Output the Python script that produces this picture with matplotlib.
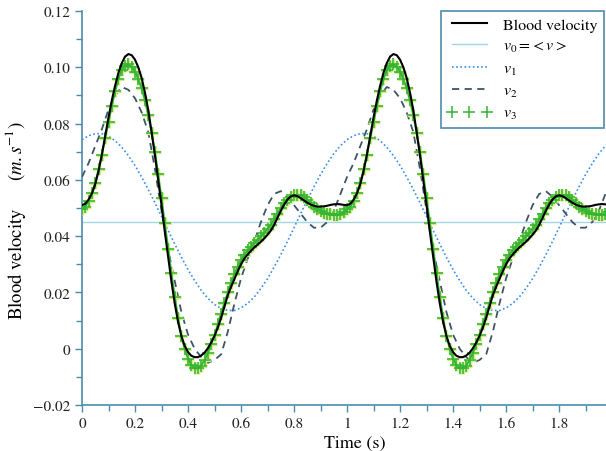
import numpy as np
import matplotlib.pyplot as plt
from matplotlib.ticker import MultipleLocator, FuncFormatter

plt.rcParams['font.family'] = ['STIXGeneral', 'DejaVu Serif']
plt.rcParams['mathtext.fontset'] = 'stix'

# one period (1 s) of each curve
t_fine = np.arange(0, 1, 0.0125)     # blood velocity and v3
t_coarse = np.arange(0, 1, 0.025)    # v1 and v2

blood = [0.0510, 0.0515, 0.0530, 0.0552, 0.0585, 0.0632, 0.0690, 0.0755,
         0.0822, 0.0882, 0.0935, 0.0980, 0.1015, 0.1038, 0.1047, 0.1043,
         0.1027, 0.1000, 0.0962, 0.0910, 0.0848, 0.0770, 0.0688, 0.0600,
         0.0510, 0.0415, 0.0325, 0.0238, 0.0160, 0.0095, 0.0045, 0.0010,
         -0.0012, -0.0025, -0.0030, -0.0030, -0.0024, -0.0014, 0.0002, 0.0022,
         0.0046, 0.0075, 0.0110, 0.0150, 0.0190, 0.0220, 0.0248, 0.0275,
         0.0300, 0.0320, 0.0335, 0.0348, 0.0360, 0.0370, 0.0380, 0.0392,
         0.0405, 0.0420, 0.0440, 0.0465, 0.0490, 0.0512, 0.0530, 0.0541,
         0.0545, 0.0542, 0.0535, 0.0527, 0.0519, 0.0512, 0.0508, 0.0505,
         0.0505, 0.0506, 0.0508, 0.0511, 0.0513, 0.0514, 0.0513, 0.0511]

v0_mean = 0.045

v1 = [0.0743, 0.0757, 0.0764, 0.0764, 0.0755, 0.0739, 0.0716, 0.0686,
      0.0651, 0.0610, 0.0566, 0.0519, 0.0470, 0.0420, 0.0372, 0.0325,
      0.0281, 0.0242, 0.0207, 0.0179, 0.0157, 0.0143, 0.0136, 0.0136,
      0.0145, 0.0161, 0.0184, 0.0214, 0.0249, 0.0290, 0.0334, 0.0381,
      0.0430, 0.0480, 0.0528, 0.0575, 0.0619, 0.0658, 0.0693, 0.0721]

v2 = [0.061, 0.066, 0.072, 0.078, 0.085, 0.090, 0.093, 0.092,
      0.089, 0.084, 0.077, 0.064, 0.049, 0.035, 0.024, 0.013,
      0.005, 0.000, -0.003, -0.005, -0.004, -0.002, 0.006, 0.016,
      0.025, 0.032, 0.038, 0.045, 0.051, 0.055, 0.056, 0.054,
      0.051, 0.048, 0.045, 0.043, 0.043, 0.045, 0.049, 0.055]

v3 = [0.0495, 0.0503, 0.0525, 0.0553, 0.0590, 0.0637, 0.0690, 0.0748,
      0.0805, 0.0862, 0.0915, 0.0958, 0.0990, 0.1006, 0.1010, 0.1002,
      0.0985, 0.0958, 0.0925, 0.0882, 0.0830, 0.0768, 0.0700, 0.0620,
      0.0535, 0.0445, 0.0355, 0.0268, 0.0185, 0.0110, 0.0045, -0.0001,
      -0.0035, -0.0058, -0.0070, -0.0070, -0.0060, -0.0040, -0.0015, 0.0015,
      0.0050, 0.0088, 0.0125, 0.0163, 0.0200, 0.0235, 0.0265, 0.0292,
      0.0315, 0.0334, 0.0350, 0.0363, 0.0375, 0.0387, 0.0400, 0.0412,
      0.0425, 0.0441, 0.0460, 0.0480, 0.0500, 0.0517, 0.0530, 0.0540,
      0.0545, 0.0547, 0.0545, 0.0539, 0.0530, 0.0518, 0.0505, 0.0497,
      0.0490, 0.0484, 0.0480, 0.0477, 0.0475, 0.0475, 0.0478, 0.0485]


def two_periods(tp, vals):
    vals = np.asarray(vals)
    return (np.concatenate([tp, tp + 1, [2.0]]),
            np.concatenate([vals, vals, vals[:1]]))


fig = plt.figure(figsize=(6.06, 4.52), dpi=100)
ax = fig.add_axes([82 / 606, 46 / 452, 524 / 606, 394 / 452])

axis_col = '#4b8cab'
green = '#33b533'

tb, yb = two_periods(t_fine, blood)
t1, y1 = two_periods(t_coarse, v1)
t2, y2 = two_periods(t_coarse, v2)
t3, y3 = two_periods(t_fine, v3)

ax.plot(tb, yb, color='black', lw=1.5, label='Blood velocity', zorder=6)
ax.axhline(v0_mean, color='#a6d4e8', lw=1.0, label=r'$v_0 =\!< v >$', zorder=2)
ax.plot(t1, y1, color='#3a8fe6', lw=1.2, ls=(0, (1, 1.5)), label=r'$v_1$', zorder=3)
ax.plot(t2, y2, color='#3d5566', lw=1.3, ls=(0, (4, 3)), label=r'$v_2$', zorder=3)
# v3: dense "+" markers, with a light yellow halo like the original rendering
ax.plot(t3, y3, ls='none', marker='+', ms=8, mew=2.4, color='#d6ea86', zorder=4)
ax.plot(t3, y3, color=green, lw=1.4, zorder=4)
ax.plot(t3, y3, ls='none', marker='+', ms=8, mew=1.1,
        color=green, label=r'$v_3$', zorder=5)

ax.set_xlim(0, 1.977)
ax.set_ylim(-0.02, 0.12)

for side in ['top', 'right']:
    ax.spines[side].set_visible(False)
for side in ['left', 'bottom']:
    ax.spines[side].set_color(axis_col)
    ax.spines[side].set_linewidth(1.2)

ax.xaxis.set_major_locator(MultipleLocator(0.2))
ax.xaxis.set_minor_locator(MultipleLocator(0.1))
ax.yaxis.set_major_locator(MultipleLocator(0.02))
ax.yaxis.set_minor_locator(MultipleLocator(0.01))
ax.xaxis.set_major_formatter(FuncFormatter(lambda v, p: '%g' % round(v, 2)))


def yfmt(v, p):
    if abs(v) < 1e-9:
        return '0'
    return ('%.2f' % v).replace('-', '\u2212')


ax.yaxis.set_major_formatter(FuncFormatter(yfmt))
ax.tick_params(which='both', direction='out', color=axis_col, width=1.0,
               labelsize=11, labelcolor='#222222')
ax.tick_params(which='major', length=5)
ax.tick_params(which='minor', length=4)

ax.set_xlabel('Time (s)', fontsize=13)
ax.xaxis.set_label_coords(0.52, -0.075)
ax.set_ylabel(r'Blood velocity      $(m.s^{-1})$', fontsize=13.5)
ax.yaxis.set_label_coords(-0.103, 0.47)

leg = ax.legend(loc='upper right', bbox_to_anchor=(0.996, 1.0), borderaxespad=0,
                fontsize=11.5, handlelength=2.8, handletextpad=0.7, numpoints=3,
                fancybox=False, framealpha=1, edgecolor=axis_col, labelspacing=0.45)
leg.get_frame().set_linewidth(1.2)

fig.savefig('out.png', dpi=100)
